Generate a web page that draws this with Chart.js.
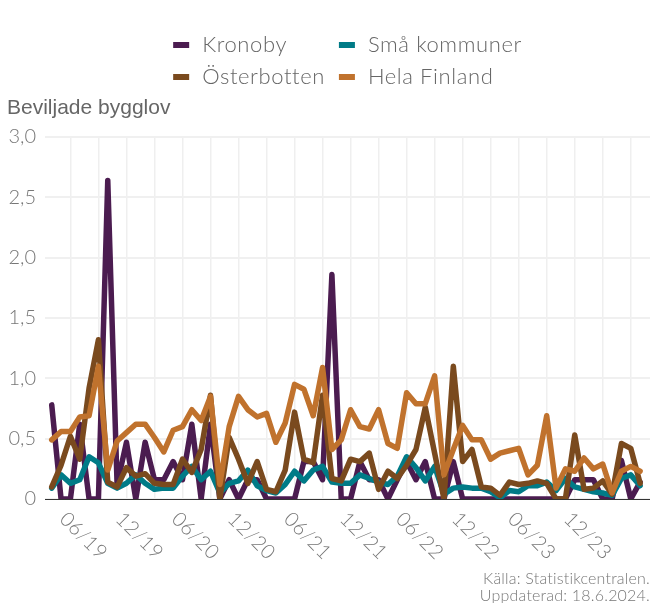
<!DOCTYPE html>
<html>
<head>
<meta charset="utf-8">
<script src="https://cdn.jsdelivr.net/npm/chart.js@4.4.0/dist/chart.umd.min.js"></script>
<style>
  html, body { margin: 0; padding: 0; background: #fff; }
  #wrap { width: 650px; height: 603px; }
</style>
</head>
<body>
<div id="wrap"><canvas id="chart"></canvas></div>
<script>
// monthly data, 01/2019 - 04/2024
const months = [
    '01/19', '02/19', '03/19', '04/19', '05/19', '06/19', '07/19', '08/19', '09/19', '10/19', '11/19', '12/19',
    '01/20', '02/20', '03/20', '04/20', '05/20', '06/20', '07/20', '08/20', '09/20', '10/20', '11/20', '12/20',
    '01/21', '02/21', '03/21', '04/21', '05/21', '06/21', '07/21', '08/21', '09/21', '10/21', '11/21', '12/21',
    '01/22', '02/22', '03/22', '04/22', '05/22', '06/22', '07/22', '08/22', '09/22', '10/22', '11/22', '12/22',
    '01/23', '02/23', '03/23', '04/23', '05/23', '06/23', '07/23', '08/23', '09/23', '10/23', '11/23', '12/23',
    '01/24', '02/24', '03/24', '04/24'
];
const xTickLabels = ['06/19', '12/19', '06/20', '12/20', '06/21', '12/21', '06/22', '12/22', '06/23', '12/23'];

const kronoby = [
    0.78, 0, 0, 0.62, 0, 0, 2.64, 0.12, 0.47, 0, 0.47, 0.16,
    0.16, 0.31, 0.16, 0.62, 0, 0.62, 0, 0.16, 0, 0.16, 0.16, 0,
    0, 0, 0, 0.31, 0.31, 0.16, 1.86, 0, 0, 0.31, 0.16, 0.16,
    0, 0.16, 0.31, 0.16, 0.31, 0, 0, 0.31, 0, 0, 0, 0,
    0, 0, 0, 0, 0, 0, 0, 0, 0.16, 0.16, 0.16, 0,
    0, 0.32, 0, 0.14
];
const smaKommuner = [
    0.09, 0.20, 0.13, 0.16, 0.35, 0.30, 0.13, 0.09, 0.13, 0.20, 0.13, 0.08,
    0.09, 0.09, 0.19, 0.27, 0.16, 0.23, 0.05, 0.13, 0.15, 0.24, 0.11, 0.07,
    0.05, 0.12, 0.23, 0.15, 0.24, 0.27, 0.14, 0.13, 0.13, 0.20, 0.17, 0.14,
    0.12, 0.19, 0.35, 0.26, 0.15, 0.27, 0.04, 0.09, 0.10, 0.09, 0.09, 0.06,
    0.01, 0.07, 0.06, 0.11, 0.11, 0.14, 0.07, 0.17, 0.10, 0.08, 0.06, 0.05,
    0.03, 0.17, 0.20, 0.11
];
const osterbotten = [
    0.10, 0.28, 0.52, 0.33, 0.92, 1.32, 0.14, 0.10, 0.26, 0.19, 0.21, 0.13,
    0.12, 0.12, 0.33, 0.22, 0.41, 0.86, 0, 0.51, 0.33, 0.13, 0.31, 0.08,
    0.06, 0.24, 0.72, 0.33, 0.30, 0.86, 0.17, 0.15, 0.33, 0.31, 0.38, 0.08,
    0.23, 0.17, 0.28, 0.41, 0.76, 0.38, 0, 1.10, 0.31, 0.41, 0.10, 0.09,
    0.03, 0.14, 0.12, 0.13, 0.15, 0.13, 0, 0, 0.53, 0.08, 0.09, 0.15,
    0.04, 0.46, 0.42, 0.13
];
const helaFinland = [
    0.49, 0.56, 0.56, 0.68, 0.69, 1.10, 0.24, 0.48, 0.55, 0.62, 0.62, 0.51,
    0.39, 0.57, 0.60, 0.74, 0.65, 0.85, 0.12, 0.60, 0.85, 0.74, 0.68, 0.71,
    0.47, 0.63, 0.95, 0.91, 0.69, 1.09, 0.41, 0.49, 0.74, 0.60, 0.58, 0.74,
    0.46, 0.42, 0.88, 0.79, 0.79, 1.02, 0.20, 0.41, 0.61, 0.49, 0.49, 0.33,
    0.38, 0.40, 0.42, 0.20, 0.28, 0.69, 0.09, 0.25, 0.23, 0.34, 0.25, 0.29,
    0.05, 0.23, 0.27, 0.23
];

const yTitle = 'Beviljade bygglov';
const sourceLines = ['Källa: Statistikcentralen.', 'Uppdaterad: 18.6.2024.'];

const toPoints = values => values.map((v, i) => ({ x: i, y: v }));

// texts outside the plot: y title, rotated month labels, legend in two columns, source
const decorations = {
    id: 'decorations',
    afterDraw(chart) {
        const { ctx, chartArea, scales: { x } } = chart;
        ctx.save();

        ctx.fillStyle = '#666';
        ctx.font = '21px "Liberation Sans", Arial, sans-serif';
        ctx.textAlign = 'left';
        ctx.textBaseline = 'middle';
        ctx.fillText(yTitle, 7, 108);

        ctx.font = '300 20px Lato';
        ctx.fillStyle = '#777';
        ctx.letterSpacing = '0.5px';
        xTickLabels.forEach(label => {
            const px = x.getPixelForValue(months.indexOf(label)) - 15;
            ctx.save();
            ctx.translate(px, chartArea.bottom + 37);
            ctx.rotate(Math.PI / 4);
            ctx.textAlign = 'center';
            ctx.fillText(label, 0, 0);
            ctx.restore();
        });

        const ds = chart.data.datasets;
        ctx.font = '300 22px Lato';
        ctx.letterSpacing = '0.6px';
        const boxW = 16, boxH = 6, gap = 13, colGap = 14;
        const w = i => ctx.measureText(ds[i].label).width;
        const col1 = boxW + gap + Math.max(w(0), w(2));
        const col2 = boxW + gap + Math.max(w(1), w(3));
        const start = (chartArea.left + chartArea.right) / 2 - (col1 + colGap + col2) / 2;
        const rowsY = [45, 77];
        ds.forEach((d, i) => {
            const lx = i % 2 === 0 ? start : start + col1 + colGap;
            const ly = rowsY[Math.floor(i / 2)];
            ctx.fillStyle = d.borderColor;
            ctx.fillRect(lx, ly - boxH / 2, boxW, boxH);
            ctx.fillStyle = '#666';
            ctx.textAlign = 'left';
            ctx.fillText(d.label, lx + boxW + gap, ly);
        });

        ctx.font = '300 16px Lato';
        ctx.letterSpacing = '0.2px';
        ctx.fillStyle = '#777';
        ctx.textAlign = 'right';
        ctx.fillText(sourceLines[0], 650, 579);
        ctx.fillText(sourceLines[1], 650, 596);
        ctx.restore();
    }
};

const line = (label, values, color, order) => ({
    label: label,
    data: toPoints(values),
    borderColor: color,
    backgroundColor: color,
    borderWidth: 5.5,
    pointRadius: 0,
    tension: 0,
    borderJoinStyle: 'round',
    borderCapStyle: 'round',
    clip: { left: 10, top: 10, right: 10, bottom: 0 },
    order: order
});

const chart = new Chart(document.getElementById('chart'), {
    type: 'line',
    data: {
        datasets: [
            line('Kronoby', kronoby, '#4b1c50', 4),
            line('Små kommuner', smaKommuner, '#007b87', 3),
            line('Österbotten', osterbotten, '#7a4a1e', 2),
            line('Hela Finland', helaFinland, '#c0722d', 1)
        ]
    },
    options: {
        responsive: true,
        maintainAspectRatio: false,
        animation: false,
        layout: { padding: { top: 137, bottom: 104, left: 0, right: 0 } },
        plugins: {
            legend: { display: false },
            tooltip: { enabled: false }
        },
        scales: {
            x: {
                type: 'linear',
                min: -0.72,
                max: 64.06,
                afterBuildTicks: scale => {
                    // grid lines at quarter ends
                    scale.ticks = months.map((m, i) => ({ value: i })).filter(t => t.value % 3 === 2);
                },
                ticks: { display: false },
                grid: { color: '#efefef', lineWidth: 1.5, drawTicks: false },
                border: { display: true, color: '#333', width: 1 }
            },
            y: {
                min: 0,
                max: 3,
                afterFit: scale => { scale.width = 45; },
                ticks: {
                    stepSize: 0.5,
                    padding: 9,
                    color: '#777',
                    font: { family: 'Lato', size: 20, weight: 300 },
                    callback: v => v === 0 ? '0' : v.toFixed(1).replace('.', ',')
                },
                grid: { color: '#f0f0f0', lineWidth: 2, drawTicks: false },
                border: { display: false }
            }
        }
    },
    plugins: [decorations]
});
</script>
</body>
</html>
